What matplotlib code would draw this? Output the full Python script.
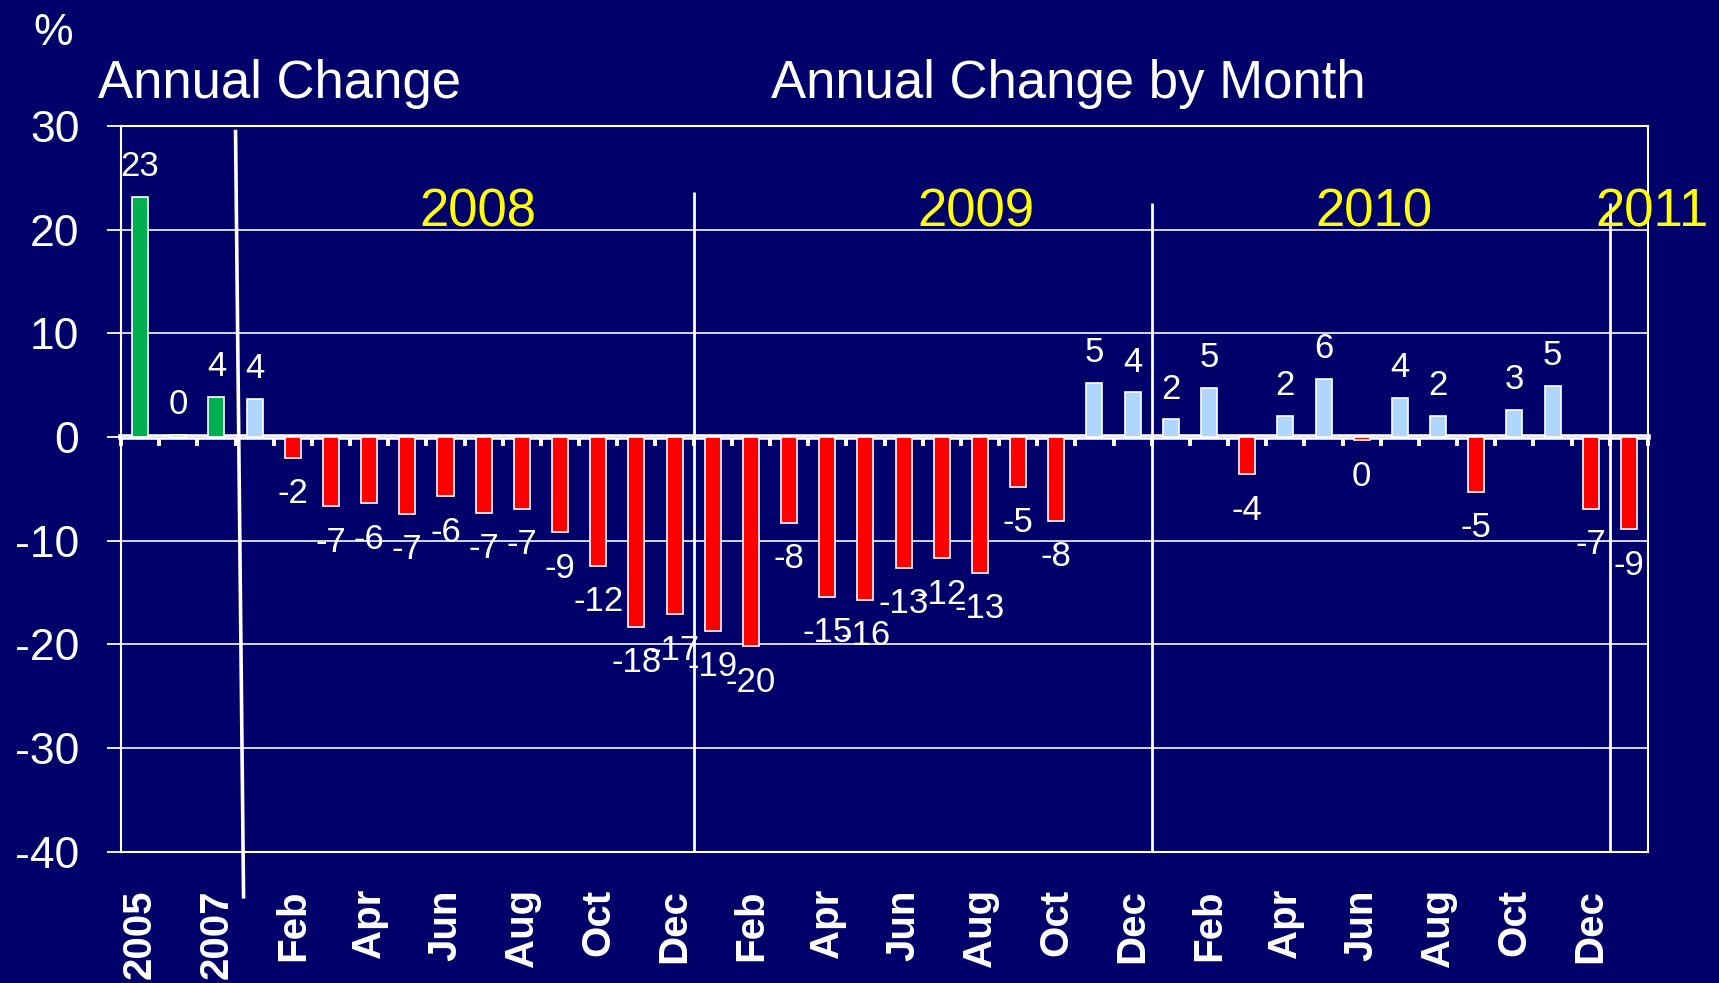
import matplotlib
matplotlib.use('Agg')
import matplotlib.pyplot as plt
import numpy as np

plt.rcParams['font.family'] = ['Liberation Sans', 'DejaVu Sans']
plt.rcParams['axes.unicode_minus'] = False

BG = '#00006A'
GREEN = '#00B050'
LBLUE = '#AFD6FF'
RED = '#FF0000'

# ── data ────────────────────────────────────────────────────────────────────
years = ['2005', '2006', '2007']
annual = [23.2, 0.2, 3.9]

months = ['Jan', 'Feb', 'Mar', 'Apr', 'May', 'Jun',
          'Jul', 'Aug', 'Sep', 'Oct', 'Nov', 'Dec'] * 3 + ['Jan']
monthly = [3.7, -2.0, -6.7, -6.4, -7.4, -5.7, -7.3, -6.9, -9.2, -12.4, -18.3, -17.1,   # 2008
           -18.7, -20.2, -8.3, -15.4, -15.7, -12.6, -11.7, -13.1, -4.8, -8.1, 5.2, 4.3,  # 2009
           1.7, 4.7, -3.6, 2.0, 5.6, -0.3, 3.8, 2.0, -5.3, 2.6, 4.9, -6.9,            # 2010
           -8.9]                                                                   # 2011

year_tags = ['2008', '2009', '2010', '2011']

cats = years + months
vals = annual + monthly
colors = [GREEN] * len(annual) + [LBLUE if v >= 0 else RED for v in monthly]
x = np.arange(len(cats))

# ── figure ──────────────────────────────────────────────────────────────────
fig = plt.figure(figsize=(17.19, 9.83), dpi=100)
fig.patch.set_facecolor(BG)
ax = fig.add_axes([0.0704, 0.1336, 0.8883, 0.7382])
ax.set_facecolor(BG)

bars = ax.bar(x, vals, width=0.42, color=colors, edgecolor='white', linewidth=1.2, zorder=3)
txt = [str(int(round(v))) for v in vals]
ax.bar_label(bars, labels=[t if v >= 0 else '' for t, v in zip(txt, vals)], padding=10,
             color='white', fontsize=25, zorder=5)
ax.bar_label(bars, labels=[t if v < 0 else '' for t, v in zip(txt, vals)], padding=14,
             color='white', fontsize=25, zorder=5)

ax.set_xlim(-0.5, len(cats) - 0.5)
ax.set_ylim(-40, 30)
ax.set_yticks(np.arange(-40, 31, 10))
ax.tick_params(axis='y', colors='white', labelsize=32, length=10, width=1.3,
               direction='out', pad=20)
ax.yaxis.grid(True, color='#e4e4f2', lw=1.3, zorder=0)
ax.set_axisbelow(True)

ax.set_xticks(x[::2], cats[::2], rotation=90, fontsize=29, fontweight='bold', color='white')
ax.tick_params(axis='x', length=0, pad=27)

for s in ax.spines.values():
    s.set_color('white')
    s.set_linewidth(1.5)

# zero line with boundary ticks
zero = ax.secondary_xaxis(40 / 70)
zero.set_alignment('bottom')
zero.set_xticks(np.arange(-0.5, len(cats), 1), [''] * (len(cats) + 1))
zero.tick_params(direction='out', length=6.5, width=2.8, color='white')
zero.spines['bottom'].set_color('white')
zero.spines['bottom'].set_linewidth(4)
zero.spines['top'].set_visible(False)

# separators
ax.plot([2.5, 2.71], [29.46, -44.35], color='white', lw=2.6, clip_on=False, zorder=4)
ax.vlines([14.5, 26.5, 38.5], -40, [23.6, 22.6, 22.6], color='white', lw=2, zorder=4)

# year labels
for tag, xp in zip(year_tags, [8.85, 21.89, 32.31, 39.6]):
    ax.text(xp, 20.3, tag, ha='center', va='baseline', fontsize=38,
            color='#FFFF00', clip_on=False, zorder=6)

# titles
W, H = 1719, 983
fig.text(53 / W, 1 - 45 / H, '%', ha='center', va='baseline', fontsize=32, color='white')
fig.text(97.6 / W, 1 - 98 / H, 'Annual Change', ha='left', va='baseline',
         fontsize=38, color='white')
fig.text(770.7 / W, 1 - 98 / H, 'Annual Change by Month', ha='left', va='baseline',
         fontsize=38, color='white')

fig.savefig('out.png', dpi=100, facecolor=BG)
